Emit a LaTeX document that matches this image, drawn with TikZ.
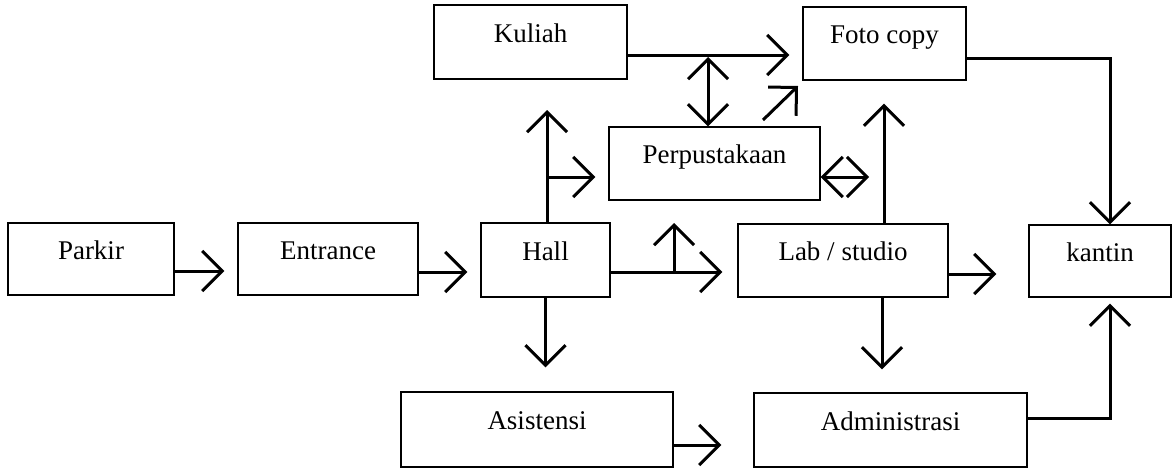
\documentclass[tikz,border=0pt]{standalone}
\usepackage{fontspec}
\setmainfont{Liberation Serif}
\usetikzlibrary{arrows.meta}
\begin{document}
\begin{tikzpicture}[x=1pt,y=-1pt,
  box/.style 2 args={draw, line width=1.4pt, minimum width=#1, minimum height=#2,
    inner sep=0pt, text height=9pt, text depth=9pt,
    font=\fontsize{27}{30}\selectfont},
  conn/.style={line width=3pt, -{Straight Barb[length=20pt,width=40pt]}},
  dconn/.style={line width=3pt, {Straight Barb[length=20pt,width=40pt]}-{Straight Barb[length=20pt,width=40pt]}},
  plain/.style={line width=3pt}]
\useasboundingbox (0,0) rectangle (1173,469);
% boxes
\node[box={166pt}{72pt}] (parkir) at (91,259) {Parkir};
\node[box={180pt}{72pt}] (entrance) at (328,259) {Entrance};
\node[box={129pt}{74pt}] (hall) at (545.5,260) {Hall};
\node[box={210pt}{73pt}] (lab) at (843,260.5) {Lab / studio};
\node[box={142pt}{72pt}] (kantin) at (1100,261) {kantin};
\node[box={193pt}{74pt}] (kuliah) at (530.5,42) {Kuliah};
\node[box={163pt}{73pt}] (foto) at (884.5,43.5) {Foto copy};
\node[box={211pt}{73pt}] (perp) at (714.5,163.5) {Perpustakaan};
\node[box={272pt}{75pt}] (asis) at (537,429.5) {Asistensi};
\node[box={273pt}{74pt}] (admin) at (890.5,430) {Administrasi};
% free ends and anchors
\coordinate (hlup) at (674,223);
\coordinate (hup) at (547,110);
\coordinate (kfmid) at (708,57);
\coordinate (diagA) at (763,120);
\coordinate (diagB) at (798,86);
\coordinate (pright) at (869,177);
\coordinate (hallE) at ([yshift=-12pt]hall.east);
\coordinate (perpW) at ([yshift=-13.5pt]perp.west);
% connectors
\draw[conn, shorten >=13pt] ([yshift=-12pt]parkir.east) -- ([yshift=-12pt]entrance.west);
\draw[conn, shorten >=13pt] ([yshift=-13pt]entrance.east) -- ([yshift=-12pt]hall.west);
\draw[conn, shorten >=15pt] (hallE) -- ([yshift=-11.5pt]lab.west);
\draw[conn] (hlup |- hallE) -- (hlup);
\draw[conn] ([xshift=1.5pt]hall.north) -- (hup);
\draw[conn, shorten >=13pt] (hup |- perpW) -- (perpW);
\draw[conn, shorten >=24pt] (hall.south) -- (hall.south |- asis.north);
\draw[conn, shorten >=32pt] ([yshift=-15.5pt]asis.east) -- ([yshift=-15pt]admin.west);
\draw[conn, shorten >=32pt] ([yshift=-13.5pt]lab.east) -- ([yshift=-13pt]kantin.west);
\draw[conn, shorten >=23pt] ([xshift=39pt]lab.south) -- ([xshift=39pt]lab.south |- admin.north);
\draw[conn, shorten >=23pt] ([xshift=41pt]lab.north) -- ([xshift=41pt]lab.north |- foto.south);
\draw[conn, shorten >=13pt] ([yshift=-13pt]kuliah.east) -- ([yshift=-11.5pt]foto.west);
\draw[dconn] ([xshift=-6.5pt]perp.north) -- (kfmid);
\draw[conn] (diagA) -- (diagB);
\draw[dconn] ([yshift=-13.5pt]perp.east) -- (pright);
\draw[conn] ([yshift=-14.5pt]foto.east) -| ([xshift=10pt]kantin.north);
\draw[conn, shorten >=6pt] ([yshift=12pt]admin.east) -| ([xshift=10pt]kantin.south);
\end{tikzpicture}
\end{document}
